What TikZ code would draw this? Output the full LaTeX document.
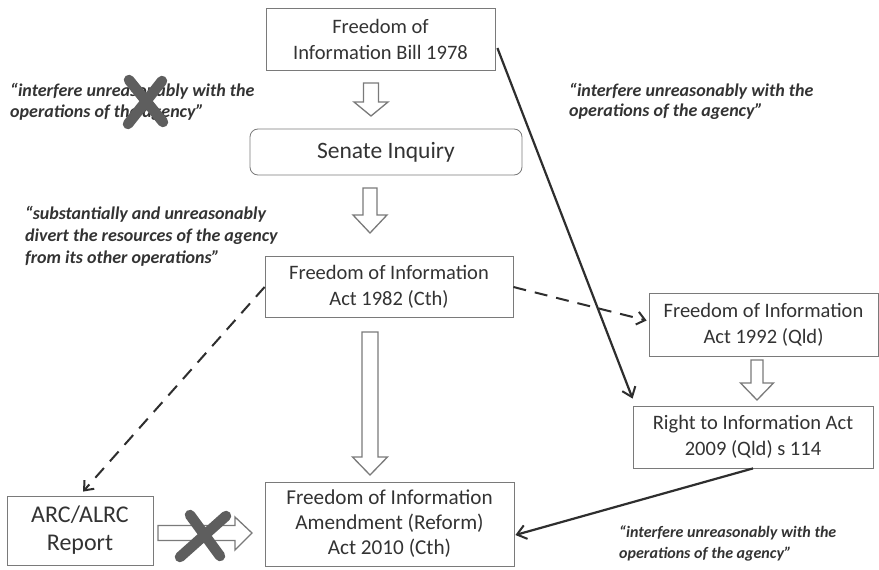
\documentclass[tikz,border=0pt]{standalone}
\usepackage{fontspec}
\setmainfont{Carlito}
\usetikzlibrary{arrows.meta}
\definecolor{boxline}{HTML}{7A7A7A}
\definecolor{txt}{HTML}{333333}
\definecolor{quotetxt}{HTML}{333333}
\definecolor{crossc}{HTML}{5E5E5E}
\definecolor{linec}{HTML}{2E2E2E}
\newcommand{\myBlockDown}[6]{%
  \draw[hollow] ({#1-#5},#2) -- ({#1+#5},#2) -- ({#1+#5},#3) -- ({#1+#6},#3)
    -- (#1,#4) -- ({#1-#6},#3) -- ({#1-#5},#3) -- cycle;}
\tikzset{
  fbox/.style={draw=boxline, line width=0.8pt, fill=white, text=txt, align=center,
    inner sep=0pt, font=\fontsize{20.5}{26}\selectfont},
  quote/.style={anchor=base west, align=left, inner sep=0pt, text=quotetxt,
    font=\fontsize{18}{21}\selectfont\bfseries\itshape},
  hollow/.style={draw=boxline, line width=1.3pt, fill=white, line join=miter},
  crossstroke/.style={draw=crossc, line width=10.5pt, line cap=round},
  solidarrow/.style={draw=linec, line width=2.2pt, -{Straight Barb[length=9pt,width=14pt,line width=2pt]}},
  dasharrow/.style={draw=linec, line width=2pt, dash pattern=on 13pt off 9pt,
    -{Straight Barb[length=8pt,width=13pt,line width=2pt]}},
}
\begin{document}
\begin{tikzpicture}[x=1pt,y=-1pt]
\useasboundingbox (0,0) rectangle (879,570);
\fill[white] (0,0) rectangle (879,570);

% boxes
\node[fbox, minimum width=229, minimum height=62] (bill) at (380.5,39) {Freedom of\\Information Bill 1978};
\node[fbox, minimum width=272, minimum height=46, rounded corners=8pt, font=\fontsize{23.5}{28}\selectfont] (senate) at (386,152) {Senate Inquiry};
\node[fbox, minimum width=248, minimum height=61] (act82) at (389,287) {Freedom of Information\\Act 1982 (Cth)};
\node[fbox, minimum width=229, minimum height=63] (act92) at (763.5,324.5) {Freedom of Information\\Act 1992 (Qld)};
\node[fbox, minimum width=240, minimum height=62] (rti) at (753,437) {Right to Information Act\\2009 (Qld) s 114};
\node[fbox, minimum width=146, minimum height=69, font=\fontsize{24}{28}\selectfont] (arc) at (80,530.5) {ARC/ALRC\\Report};
\node[fbox, minimum width=249, minimum height=84, font=\fontsize{21.2}{25}\selectfont] (amend) at (389.5,524) {Freedom of Information\\Amendment (Reform)\\Act 2010 (Cth)};

% hollow block arrows
\myBlockDown{371}{83}{102}{116}{7.5}{17}
\myBlockDown{370}{188}{215}{233}{7}{17}
\myBlockDown{370}{332}{457}{475}{8}{17.5}
\myBlockDown{757}{360}{383}{400}{6}{16.5}
\draw[hollow] (158,525.5) -- (235,525.5) -- (235,517) -- (252,533) -- (235,550) -- (235,540.5) -- (158,540.5) -- cycle;

% connectors
\draw[solidarrow] ([shift={(2,9)}]bill.east) -- ([shift={(0,-7)}]rti.north west);
\draw[dasharrow] (act82.east) -- ([shift={(-2,-4)}]act92.west);
\draw[dasharrow] (act82.west) -- ([shift={(3,-4)}]arc.north);
\draw[solidarrow] (rti.south) -- ([shift={(1,11)}]amend.east);

% quotes
\node[quote] (q1) at (10,117.5) {“interfere unreasonably with the\\operations of the agency”};
\node[quote, font=\fontsize{18}{20}\selectfont\bfseries\itshape] (q2) at (569,116.5) {“interfere unreasonably with the\\operations of the agency”};
\node[quote, font=\fontsize{18}{22}\selectfont\bfseries\itshape] (q3) at (25,263) {“substantially and unreasonably\\divert the resources of the agency\\from its other operations”};
\node[quote, font=\fontsize{16}{21}\selectfont\bfseries\itshape] (q4) at (619,558) {“interfere unreasonably with the\\operations of the agency”};

% crosses
\draw[crossstroke] (129,80) -- (163,122);
\draw[crossstroke] (162,81) -- (128,124);
\draw[crossstroke] (190,515) -- (220,556);
\draw[crossstroke] (226,516) -- (180,557);
\end{tikzpicture}
\end{document}
